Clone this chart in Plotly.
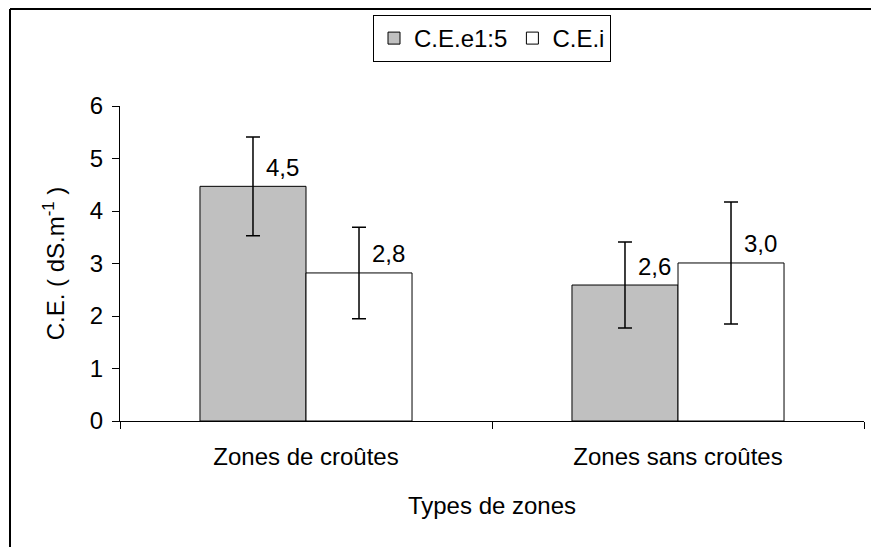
import plotly.graph_objects as go

categories = ["Zones de croûtes", "Zones sans croûtes"]
series_names = ["C.E.e1:5", "C.E.i"]
ce_e15 = [4.47, 2.59]
ce_e15_err = [0.94, 0.82]
ce_i = [2.82, 3.01]
ce_i_err = [0.87, 1.16]
ytick_vals = [0, 1, 2, 3, 4, 5, 6]

FONT = "Liberation Sans, Arial, sans-serif"
FS = 24
W, H = 871, 547
L, R, T, B = 120, 7, 106, 126
pw = W - L - R
ph = H - T - B

def fmt(v):
    return f"{v:.1f}".replace(".", ",")

fig = go.Figure()
fig.add_trace(go.Bar(
    x=categories, y=ce_e15, name=series_names[0],
    marker=dict(color="#C0C0C0", line=dict(color="black", width=1)),
    error_y=dict(type="data", array=ce_e15_err, color="black", thickness=1.5, width=7),
))
fig.add_trace(go.Bar(
    x=categories, y=ce_i, name=series_names[1],
    marker=dict(color="#FFFFFF", line=dict(color="black", width=1)),
    error_y=dict(type="data", array=ce_i_err, color="black", thickness=1.5, width=7),
))

annotations = []
for cat, v in zip(categories, ce_e15):
    annotations.append(dict(x=cat, y=v, text=fmt(v), showarrow=False, xshift=-24, yshift=19,
                            xanchor="center", yanchor="middle", font=dict(family=FONT, size=FS, color="black")))
for cat, v in zip(categories, ce_i):
    annotations.append(dict(x=cat, y=v, text=fmt(v), showarrow=False, xshift=82, yshift=19,
                            xanchor="center", yanchor="middle", font=dict(family=FONT, size=FS, color="black")))

def px_to_paper_x(px):
    return (px - L) / pw

def px_to_paper_y(py):
    return (H - B - py) / ph

fig.update_layout(
    width=W, height=H,
    margin=dict(l=L, r=R, t=T, b=B, autoexpand=False),
    paper_bgcolor="white", plot_bgcolor="white",
    barmode="group", bargap=0.43, bargroupgap=0,
    font=dict(family=FONT, size=FS, color="black"),
    showlegend=True,
    legend=dict(orientation="h", x=0.5, xanchor="center", y=px_to_paper_y(15), yanchor="top",
                bordercolor="black", borderwidth=1, bgcolor="white",
                font=dict(family=FONT, size=FS, color="black"),
                itemwidth=30, tracegroupgap=0),
    annotations=annotations,
    shapes=[
        dict(type="line", xref="paper", yref="paper",
             x0=px_to_paper_x(10), x1=px_to_paper_x(10),
             y0=px_to_paper_y(560), y1=px_to_paper_y(9),
             line=dict(color="black", width=2), layer="below"),
        dict(type="line", xref="paper", yref="paper",
             x0=px_to_paper_x(10), x1=px_to_paper_x(880),
             y0=px_to_paper_y(9), y1=px_to_paper_y(9),
             line=dict(color="black", width=2), layer="below"),
    ],
    xaxis=dict(type="category", showline=True, linecolor="black", linewidth=1,
               ticks="outside", tickson="boundaries", ticklen=7, tickcolor="black",
               showgrid=False, zeroline=False, ticklabelstandoff=14,
               title=dict(text="Types de zones", standoff=28, font=dict(family=FONT, size=FS))),
    yaxis=dict(range=[0, 6], tickvals=ytick_vals, showline=True, linecolor="black", linewidth=1,
               ticks="outside", ticklen=7, tickcolor="black", showgrid=False, zeroline=False,
               ticklabelstandoff=4,
               title=dict(text="C.E. ( dS.m<sup>-1</sup> )", standoff=18, font=dict(family=FONT, size=FS))),
)

fig.write_html("out.html", config={"displayModeBar": False})

with open("out.html", "r", encoding="utf-8") as f:
    html = f.read()
html = html.replace("<head>", "<head><style>html,body{margin:0;padding:0;overflow:hidden;}</style>", 1)
with open("out.html", "w", encoding="utf-8") as f:
    f.write(html)
